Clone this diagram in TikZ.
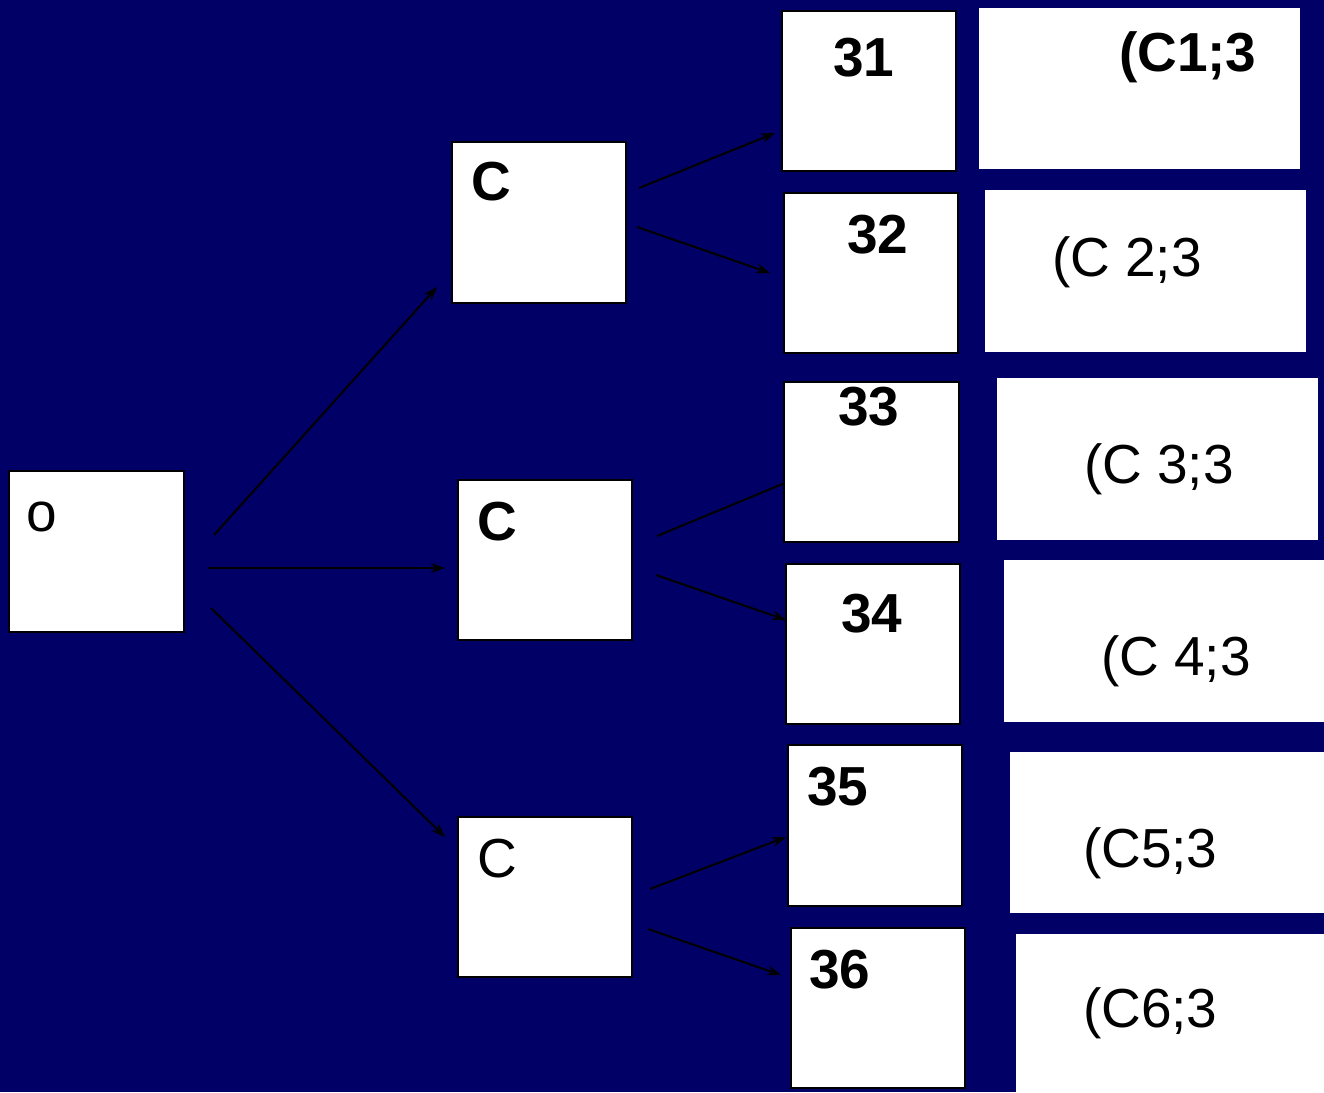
\documentclass[tikz,border=0pt]{standalone}
\usepackage{fontspec}
\setmainfont{Liberation Sans}
\usetikzlibrary{arrows.meta}
\definecolor{navybg}{RGB}{0,0,102}
\begin{document}
\begin{tikzpicture}[x=1pt,y=-1pt,
  whitebox/.style={draw=black,line width=2pt,fill=white,anchor=north west,inner sep=0pt,outer sep=0pt},
  plainbox/.style={fill=white,anchor=north west,inner sep=0pt,outer sep=0pt},
  lbl/.style={anchor=base west,inner sep=0pt,outer sep=0pt,text=black,font=\fontsize{55}{60}\selectfont},
  blbl/.style={lbl,font=\fontsize{55}{60}\selectfont\bfseries},
  conn/.style={line width=2pt,-{Stealth[length=14pt,width=10pt]}}]
\path[fill=navybg,use as bounding box] (0,0) rectangle (1324,1092);
% connector end points
\coordinate (a1) at (214,535); \coordinate (b1) at (437,287);
\coordinate (a2) at (208,568); \coordinate (b2) at (445,568);
\coordinate (a3) at (211,608); \coordinate (b3) at (445,837);
\coordinate (c1) at (639,188); \coordinate (d1) at (775,133);
\coordinate (c2) at (637,227); \coordinate (d2) at (770,273);
\coordinate (c3) at (657,536); \coordinate (d3) at (797,478);
\coordinate (c4) at (656,575); \coordinate (d4) at (786,620);
\coordinate (c5) at (650,889); \coordinate (d5) at (786,837);
\coordinate (c6) at (648,929); \coordinate (d6) at (781,975);
\draw[conn] (a1) -- (b1);
\draw[conn] (a2) -- (b2);
\draw[conn] (a3) -- (b3);
\draw[conn] (c1) -- (d1);
\draw[conn] (c2) -- (d2);
\draw[conn] (c3) -- (d3);
\draw[conn] (c4) -- (d4);
\draw[conn] (c5) -- (d5);
\draw[conn] (c6) -- (d6);
% boxes
\node[whitebox,minimum width=175pt,minimum height=161pt] (o) at (9,471) {};
\node[whitebox,minimum width=174pt,minimum height=161pt] (k1) at (452,142) {};
\node[whitebox,minimum width=174pt,minimum height=160pt] (k2) at (458,480) {};
\node[whitebox,minimum width=174pt,minimum height=160pt] (k3) at (458,817) {};
\node[whitebox,minimum width=174pt,minimum height=160pt] (n31) at (782,11) {};
\node[whitebox,minimum width=174pt,minimum height=160pt] (n32) at (784,193) {};
\node[whitebox,minimum width=175pt,minimum height=160pt] (n33) at (784,382) {};
\node[whitebox,minimum width=174pt,minimum height=160pt] (n34) at (786,564) {};
\node[whitebox,minimum width=174pt,minimum height=161pt] (n35) at (788,745) {};
\node[whitebox,minimum width=174pt,minimum height=160pt] (n36) at (791,928) {};
\node[plainbox,minimum width=321pt,minimum height=161pt] (r1) at (979,8) {};
\node[plainbox,minimum width=321pt,minimum height=162pt] (r2) at (985,190) {};
\node[plainbox,minimum width=321pt,minimum height=162pt] (r3) at (997,378) {};
\node[plainbox,minimum width=320pt,minimum height=162pt] (r4) at (1004,560) {};
\node[plainbox,minimum width=314pt,minimum height=161pt] (r5) at (1010,752) {};
\node[plainbox,minimum width=308pt,minimum height=158pt] (r6) at (1016,934) {};
% labels
\node[lbl] (to) at (27,531) {o};
\node[blbl] (tk1) at (471,200) {C};
\node[blbl] (tk2) at (477,540) {C};
\node[lbl] (tk3) at (477,877) {C};
\node[blbl] (t31) at (833,76) {31};
\node[blbl] (t32) at (847,253) {32};
\node[blbl] (t33) at (838,425) {33};
\node[blbl] (t34) at (841,632) {34};
\node[blbl] (t35) at (807,805) {35};
\node[blbl] (t36) at (809,988) {36};
\node[blbl] (tr1) at (1119,71) {(C1;3};
\node[lbl] (tr2) at (1052,276) {(C 2;3};
\node[lbl] (tr3) at (1084,483) {(C 3;3};
\node[lbl] (tr4) at (1101,675) {(C 4;3};
\node[lbl] (tr5) at (1083,867) {(C5;3};
\node[lbl] (tr6) at (1083,1027) {(C6;3};
\end{tikzpicture}
\end{document}
